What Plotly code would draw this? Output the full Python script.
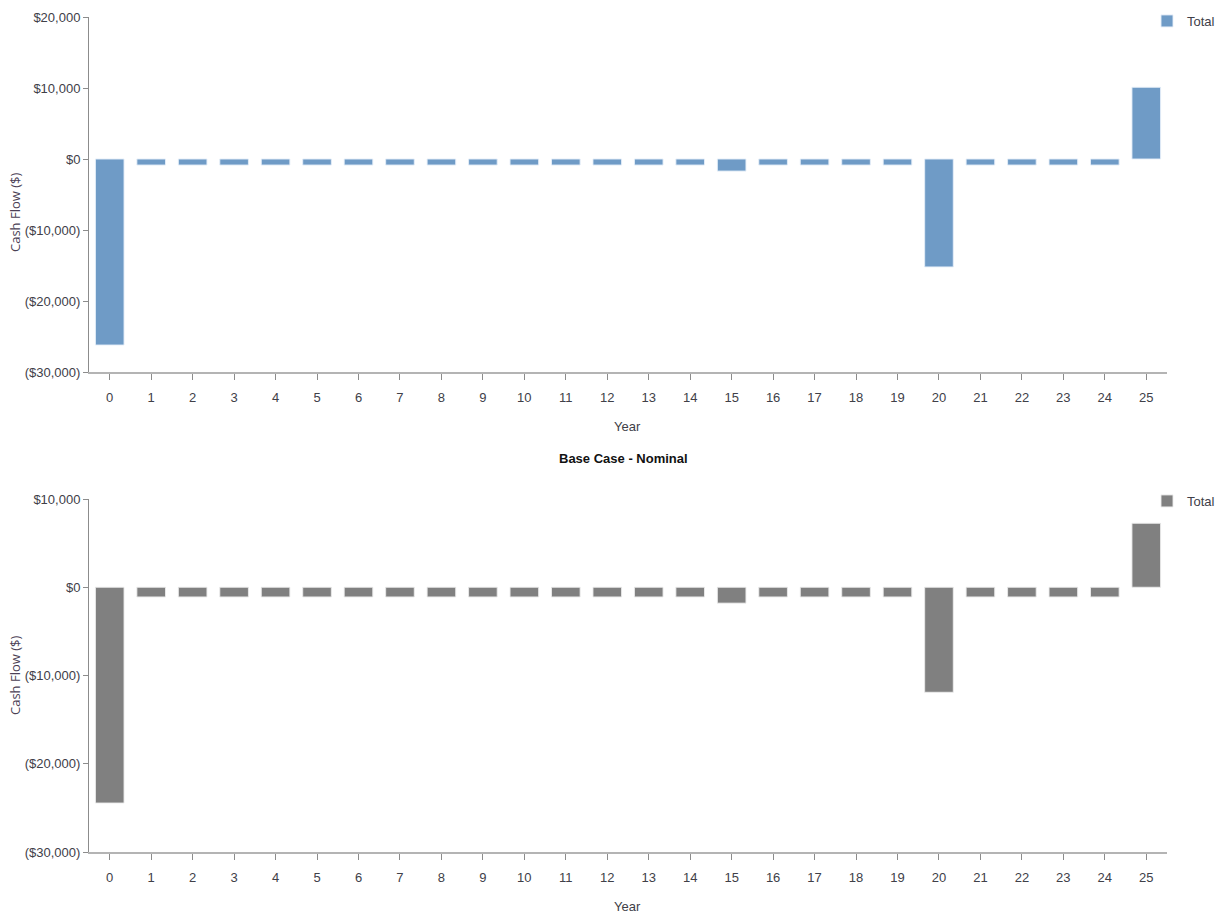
import plotly.graph_objects as go

# Annual cash flow totals (USD) for years 0-25
years = list(range(26))
real_total = [-26200] + [-850] * 14 + [-1700] + [-850] * 4 + [-15200] + [-850] * 4 + [10100]
nominal_total = [-24450] + [-1100] * 14 + [-1800] + [-1100] * 4 + [-11900] + [-1100] * 4 + [7250]

top_ticks = [20000, 10000, 0, -10000, -20000, -30000]
bottom_ticks = [10000, 0, -10000, -20000, -30000]


def money(v):
    return f"${v:,.0f}" if v >= 0 else f"(${-v:,.0f})"


W, H = 1220, 914
x_dom = [89 / W, 1167 / W]
top_dom = [1 - 372 / H, 1 - 17 / H]
bot_dom = [1 - 852 / H, 1 - 499 / H]

tick_font = dict(family="Liberation Sans, Arial, sans-serif", size=13, color="#404048")

fig = go.Figure()
fig.add_trace(go.Bar(
    x=years, y=real_total, name="Total", xaxis="x", yaxis="y", legend="legend",
    marker=dict(color="#6F9BC6", line=dict(color="rgba(230,238,248,0.9)", width=1)),
    width=0.69,
))
fig.add_trace(go.Bar(
    x=years, y=nominal_total, name="Total", xaxis="x2", yaxis="y2", legend="legend2",
    marker=dict(color="#808080", line=dict(color="rgba(235,235,235,0.9)", width=1)),
    width=0.69,
))

xaxis_common = dict(
    domain=x_dom, range=[-0.5, 25.5], tickmode="array", tickvals=years,
    ticktext=[str(y) for y in years], showline=True, linecolor="#b4b4b4", linewidth=2,
    ticks="outside", ticklen=6, tickcolor="#8c8c8c", showgrid=False, zeroline=False,
    tickfont=tick_font, fixedrange=True, automargin=False, ticklabelstandoff=6,
)
yaxis_common = dict(
    showline=True, linecolor="#8c8c8c", linewidth=1, ticks="outside", ticklen=5,
    tickcolor="#8c8c8c", showgrid=False, zeroline=False, tickfont=tick_font,
    automargin=False, fixedrange=True,
)

legend_common = dict(x=1.0, xanchor="right", yanchor="top", font=tick_font,
                     bgcolor="rgba(0,0,0,0)", itemwidth=30)

fig.update_layout(
    width=W, height=H, margin=dict(l=0, r=0, t=0, b=0, autoexpand=False),
    paper_bgcolor="white", plot_bgcolor="white", barmode="overlay",
    xaxis=dict(**xaxis_common, anchor="y"),
    xaxis2=dict(**xaxis_common, anchor="y2"),
    yaxis=dict(**yaxis_common, domain=top_dom, anchor="x", range=[-30000, 20000],
               tickmode="array", tickvals=top_ticks, ticktext=[money(v) for v in top_ticks]),
    yaxis2=dict(**yaxis_common, domain=bot_dom, anchor="x2", range=[-30000, 10000],
                tickmode="array", tickvals=bottom_ticks, ticktext=[money(v) for v in bottom_ticks]),
    legend=dict(**legend_common, y=1 - 6 / H),
    legend2=dict(**legend_common, y=1 - 486 / H),
    showlegend=True,
)

label_font = dict(family="Open Sans, sans-serif", size=13, color="#4b3f55")
for yc in (213, 676):
    fig.add_annotation(text="Cash Flow ($)", textangle=-90, xref="paper", yref="paper",
                       x=15 / W, y=1 - yc / H, xanchor="center", yanchor="middle",
                       showarrow=False, font=label_font)
for yc in (426, 906):
    fig.add_annotation(text="Year", xref="paper", yref="paper",
                       x=627 / W, y=1 - yc / H, xanchor="center", yanchor="middle",
                       showarrow=False, font=tick_font)
fig.add_annotation(text="<b>Base Case - Nominal</b>", xref="paper", yref="paper",
                   x=623 / W, y=1 - 459 / H, xanchor="center", yanchor="middle",
                   showarrow=False,
                   font=dict(family="Liberation Sans, Arial, sans-serif", size=13, color="#111111"))

fig.write_html("out.html")
